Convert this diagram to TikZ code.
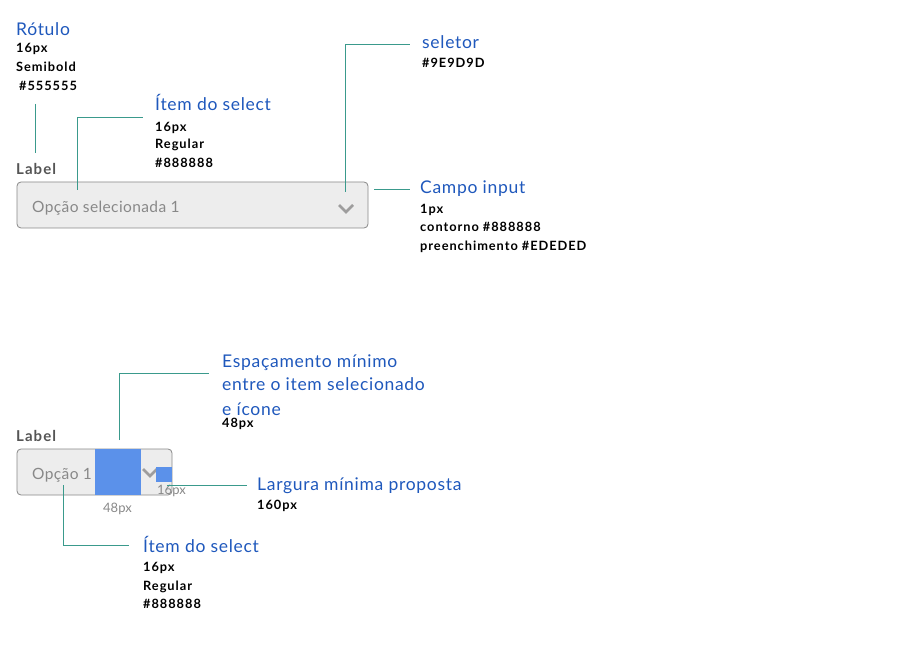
\documentclass[tikz,border=0pt]{standalone}
\usepackage{fontspec}
\setmainfont{Lato}
\newfontfamily\titlefont[LetterSpace=4]{Lato}
\newfontfamily\specfont[LetterSpace=7.5]{Lato}
\newfontfamily\labfont[LetterSpace=7]{Lato}
\newfontfamily\itemfont[LetterSpace=2.5]{Lato}
\definecolor{ttl}{HTML}{1F58BC}
\definecolor{lead}{HTML}{3A9A8C}
\definecolor{lbl}{HTML}{555555}
\definecolor{itm}{HTML}{888888}
\definecolor{sel}{HTML}{9E9D9D}
\definecolor{fld}{HTML}{EDEDED}
\definecolor{hil}{HTML}{5B91EA}
\tikzset{
  every node/.style={inner sep=0pt, anchor=base west},
  title/.style={text=ttl, font=\titlefont\fontsize{17.5}{20}\selectfont},
  spec/.style={text=black, font=\specfont\fontsize{12.8}{15}\selectfont\bfseries},
  lab/.style={text=lbl, font=\labfont\fontsize{15}{17}\selectfont\bfseries},
  item/.style={text=itm, font=\itemfont\fontsize{15.5}{18}\selectfont},
  dim/.style={text=itm, font=\fontsize{13}{15}\selectfont},
  leader/.style={draw=lead, line width=0.9pt},
  field/.style={draw=itm, fill=fld, line width=0.8pt, rounded corners=4pt},
  chev/.style={draw=sel, line width=2.6pt, line cap=butt, line join=miter},
}
\begin{document}
\begin{tikzpicture}[x=1pt,y=-1pt]
\useasboundingbox (0,0) rectangle (914,647);
% ---------- top example ----------
\node[title] (rot) at (16,36) {Rótulo};
\node[spec] at (16,53) {16px};
\node[spec] at (16,72) {Semibold};
\node[spec] at (19,91) {\#555555};
\coordinate (rotA) at (35,104);
\coordinate (rotB) at (35,153);
\draw[leader] (rotA) -- (rotB);

\node[lab] (lab1) at (16,175) {Label};
\path[field] (17,182) rectangle (368,228);
\node[item] (opt1) at (32,213) {Opção selecionada 1};
\draw[chev] (339,205) -- (346,212) -- (353,205);

\node[title] (item1) at (155,111) {Ítem do select};
\node[spec] at (155,132) {16px};
\node[spec] at (155,149) {Regular};
\node[spec] at (155,168) {\#888888};
\coordinate (i1a) at (77,190);
\coordinate (i1b) at (143,117);
\draw[leader] (i1a) |- (i1b);

\node[title] (selt) at (422,49) {seletor};
\node[spec] at (422,68) {\#9E9D9D};
\coordinate (s1a) at (345,192);
\coordinate (s1b) at (410,44);
\draw[leader] (s1a) |- (s1b);

\node[title] (campo) at (420,194) {Campo input};
\node[spec] at (420,214) {1px};
\node[spec] at (420,232) {contorno \#888888};
\node[spec] at (420,251) {preenchimento \#EDEDED};
\coordinate (c1a) at (374,189);
\coordinate (c1b) at (410,189);
\draw[leader] (c1a) -- (c1b);

% ---------- bottom example ----------
\node[title] (esp) at (222,368) {Espaçamento mínimo};
\node[title] at (222,391) {entre o item selecionado};
\node[title] at (222,415) {e ícone};
\node[spec] at (222,428) {48px};
\coordinate (e1a) at (119,440);
\coordinate (e1b) at (209,373);
\draw[leader] (e1a) |- (e1b);

\node[lab] (lab2) at (16,441) {Label};
\path[field] (17,449) rectangle (172,495);
\node[item] (opt2) at (32,479) {Opção 1};
\fill[hil] (95,449) rectangle (141,495);
\draw[chev] (143,469) -- (150,476) -- (157,469);
\fill[hil] (156,467) rectangle (172,482);
\node[dim] (d16) at (157,494) {16px};
\node[dim] (d48) at (103,512) {48px};

\node[title] (larg) at (257,490) {Largura mínima proposta};
\node[spec] at (257,509) {160px};
\coordinate (l1a) at (167,485);
\coordinate (l1b) at (247,485);
\draw[leader] (l1a) -- (l1b);

\node[title] (item2) at (143,552) {Ítem do select};
\node[spec] at (143,571) {16px};
\node[spec] at (143,590) {Regular};
\node[spec] at (143,608) {\#888888};
\coordinate (i2a) at (63,485);
\coordinate (i2b) at (129,545);
\draw[leader] (i2a) |- (i2b);
\end{tikzpicture}
\end{document}
